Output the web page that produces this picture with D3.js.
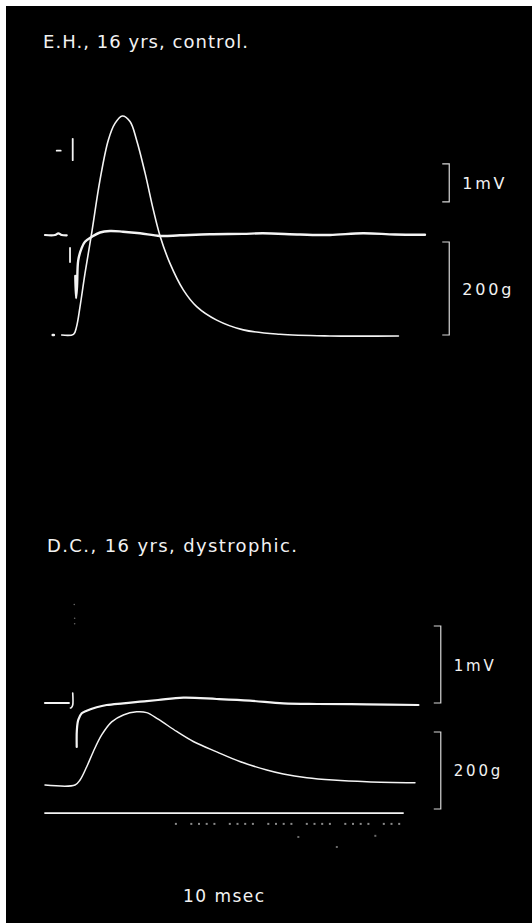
<!DOCTYPE html>
<html lang="en">

<head>
  <meta charset="UTF-8">
  <title>Twitch and action potential</title>
  <script src="https://d3js.org/d3.v7.min.js"></script>
  <style>
    body {
      margin: 0;
      background: #fff;
    }

    text {
      font-family: 'DejaVu Sans', sans-serif;
      fill: #f2f2f2;
    }

    .trace {
      fill: none;
      stroke: #f4f4f4;
      stroke-linejoin: round;
      stroke-linecap: round;
    }

    .bracket {
      fill: none;
      stroke: #d8d8d8;
      stroke-width: 1.2;
    }
  </style>
</head>

<body>
  <svg width="532" height="923"></svg>
  <script>
    // [ms, value] pairs
    const titles = ['E.H., 16 yrs, control.', 'D.C., 16 yrs, dystrophic.'];
    const timeLabel = '10 msec';

    const topForce = [[2.17, 0], [3.7, 1.5], [4.1, 18], [4.55, 61], [5.2, 133], [6.06, 219], [7.14, 333],
      [8.22, 419], [9.09, 455], [10.04, 471], [11.04, 459], [11.9, 419], [13.0, 348], [14.07, 269],
      [14.94, 213], [16.23, 154], [17.96, 97], [19.7, 61], [22.3, 32], [25.75, 11], [30.5, 1.5],
      [37, -2], [45.9, -2]];
    const topForceDot = [[1.0, 0], [1.15, 0]];

    const topEmgBase = [[0, 0], [1.3, 0], [1.73, 0.045], [2.17, 0], [2.82, -0.01]];
    const topEmgArtifacts = [
      [[1.52, 2.22], [2.04, 2.22]],
      [[3.6, 2.53], [3.6, 1.97]],
      [[3.25, -0.34], [3.25, -0.71]]
    ];
    const topEmg = [[3.94, -1.08], [4.03, -1.66], [4.16, -1.34], [4.32, -0.66], [4.77, -0.34], [5.19, -0.18],
      [6.06, -0.05], [7.14, 0.066], [8.44, 0.105], [10.13, 0.087], [12.34, 0.045], [14.94, -0.026],
      [17.53, -0.008], [21.4, 0.02], [25.7, 0.03], [28.3, 0.045], [33.1, 0.013], [37, 0],
      [41.3, 0.045], [45.45, 0.013], [49.35, 0.008]];

    const botEmgBase = [[0, 0], [3.1, 0]];
    const botEmgHook = [[3.6, 0.13], [3.6, -0.026], [3.44, -0.058], [3.31, -0.065]];
    const botEmg = [[4.12, -0.57], [4.14, -0.35], [4.32, -0.22], [4.77, -0.134], [5.42, -0.1], [6.71, -0.056],
      [8.01, -0.026], [10.17, -0.004], [12.34, 0.017], [14.68, 0.039], [17.96, 0.069], [22.3, 0.052],
      [26.6, 0.03], [30.95, -0.004], [35.3, -0.013], [41.8, -0.017], [48.5, -0.026]];
    const botEmgSpecks = [[3.8, 1.28], [3.85, 1.1], [3.85, 1.03]];

    const botForce = [[0, 0], [3.9, 0], [4.55, 13], [5.42, 47.5], [6.27, 86.5], [7.36, 130], [8.66, 164],
      [10.17, 182], [11.9, 190], [13.2, 188], [14.7, 171], [17.1, 139], [19.26, 113], [22.3, 86],
      [25.3, 61], [28.8, 39], [30.95, 28.6], [34, 19], [37.4, 13], [41.8, 8.6], [48.05, 6]];
    const botBaseLine = [[0, -73], [46.5, -73]];

    // 1 ms timing marks below the sweep, every fifth one missing
    const timeMarks = [17, 19, 20, 21, 22, 24, 25, 26, 27, 29, 30, 31, 32, 34, 35, 36, 37, 39, 40, 41, 42, 44, 45, 46];
    const timeMarkLevel = -101;
    const strayMarks = [[32.9, -135], [37.9, -161], [42.9, -132]];

    // calibration brackets: [from, to] in units of each scale
    const topMvBar = [0.87, 1.87];
    const topGBar = [0, 200];
    const botMvBar = [0, 1];
    const botGBar = [137.7, -62.3];

    const svg = d3.select('svg');

    svg.append('rect')
      .attr('x', 6).attr('y', 6)
      .attr('width', 526).attr('height', 917)
      .attr('fill', '#000');

    const x = d3.scaleLinear().domain([0, 48]).range([45, 414.6]);

    const panels = [
      {
        title: titles[0], titleX: 43, titleY: 48, titleLen: 205,
        yF: d3.scaleLinear().domain([0, 200]).range([335, 242]),
        yE: d3.scaleLinear().domain([0, 1]).range([235, 197]),
        barT: 52.5, mvBar: topMvBar, gBar: topGBar, labelSize: 16
      },
      {
        title: titles[1], titleX: 47, titleY: 552, titleLen: 250,
        yF: d3.scaleLinear().domain([0, 200]).range([785, 708]),
        yE: d3.scaleLinear().domain([0, 1]).range([703, 626]),
        barT: 51.4, mvBar: botMvBar, gBar: botGBar, labelSize: 15
      }
    ];

    function trace(g, data, y, width) {
      g.append('path')
        .datum(data)
        .attr('class', 'trace')
        .attr('stroke-width', width)
        .attr('d', d3.line().x(d => x(d[0])).y(d => y(d[1])).curve(d3.curveCatmullRom.alpha(0.5)));
    }

    function bracket(g, bar, y, t, label, size) {
      const bx = x(t);
      const y0 = y(bar[0]);
      const y1 = y(bar[1]);
      g.append('path')
        .attr('class', 'bracket')
        .attr('d', `M${bx - 7},${y0}H${bx}V${y1}H${bx - 7}`);
      g.append('text')
        .attr('x', bx + 13)
        .attr('y', (y0 + y1) / 2)
        .attr('dy', '0.4em')
        .attr('font-size', size)
        .attr('letter-spacing', 2.8)
        .text(label);
    }

    panels.forEach((p, i) => {
      const g = svg.append('g');

      g.append('text')
        .attr('x', p.titleX)
        .attr('y', p.titleY)
        .attr('font-size', 18)
        .attr('textLength', p.titleLen)
        .attr('lengthAdjust', 'spacing')
        .text(p.title);

      bracket(g, p.mvBar, p.yE, p.barT, '1mV', p.labelSize);
      bracket(g, p.gBar, p.yF, p.barT, '200g', p.labelSize);

      if (i === 0) {
        trace(g, topForceDot, p.yF, 2.5);
        trace(g, topForce, p.yF, 1.6);
        trace(g, topEmgBase, p.yE, 2.2);
        topEmgArtifacts.forEach(a => trace(g, a, p.yE, 1.8));
        trace(g, topEmg, p.yE, 2.4);
      } else {
        trace(g, botEmgBase, p.yE, 2.2);
        trace(g, botEmgHook, p.yE, 1.6);
        trace(g, botEmg, p.yE, 2.2);
        trace(g, botForce, p.yF, 1.5);
        trace(g, botBaseLine, p.yF, 1.8);

        g.selectAll('.speck')
          .data(botEmgSpecks)
          .enter()
          .append('circle')
          .attr('cx', d => x(d[0]))
          .attr('cy', d => p.yE(d[1]))
          .attr('r', 0.8)
          .attr('fill', '#666');

        g.selectAll('.mark')
          .data(timeMarks)
          .enter()
          .append('rect')
          .attr('x', d => x(d) - 1)
          .attr('y', p.yF(timeMarkLevel) - 1)
          .attr('width', 2)
          .attr('height', 2)
          .attr('fill', '#8a8a8a');

        g.selectAll('.stray')
          .data(strayMarks)
          .enter()
          .append('rect')
          .attr('x', d => x(d[0]) - 1)
          .attr('y', d => p.yF(d[1]) - 1)
          .attr('width', 2)
          .attr('height', 2)
          .attr('fill', '#6a6a6a');
      }
    });

    svg.append('text')
      .attr('x', 183)
      .attr('y', 902)
      .attr('font-size', 17)
      .attr('textLength', 81)
      .attr('lengthAdjust', 'spacing')
      .text(timeLabel);
  </script>
</body>

</html>
